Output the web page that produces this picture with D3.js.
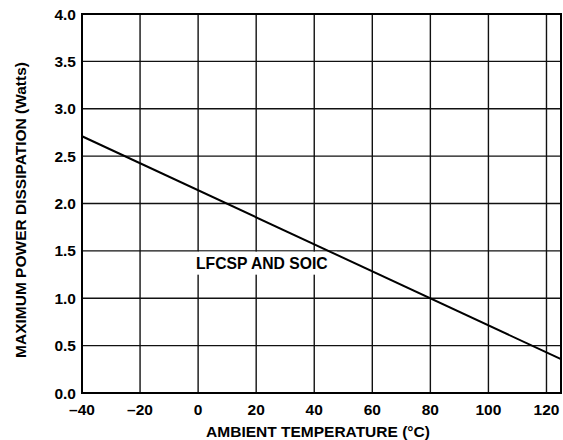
<!DOCTYPE html>
<html><head><meta charset="utf-8">
<script src="https://cdn.jsdelivr.net/npm/d3@7"></script>
<style>body{margin:0;background:#fff}svg{display:block}text{font-family:"Liberation Sans",Arial,sans-serif;font-weight:bold;fill:#000}</style>
</head><body><svg id="c" width="563" height="440"></svg>
<script>
const xTicks = [-40,-20,0,20,40,60,80,100,120];
const yTicks = [0,0.5,1,1.5,2,2.5,3,3.5,4];
const temps = [-40,125];
const power = [2.71,0.357];
const seriesLabel = "LFCSP AND SOIC";
const xTitle = "AMBIENT TEMPERATURE (°C)";
const yTitle = "MAXIMUM POWER DISSIPATION (Watts)";

const svg = d3.select("#c");
const m = {l:82,t:14,r:561,b:393};
const x = d3.scaleLinear().domain([-40,125]).range([m.l,m.r]);
const y = d3.scaleLinear().domain([0,4]).range([m.b,m.t]);

const g = svg.append("g");
g.selectAll("line.vx").data(xTicks).join("line")
  .attr("x1",d=>x(d)).attr("x2",d=>x(d)).attr("y1",m.t).attr("y2",m.b)
  .attr("stroke","#111").attr("stroke-width",1.4);
g.selectAll("line.hy").data(yTicks).join("line")
  .attr("y1",d=>y(d)).attr("y2",d=>y(d)).attr("x1",m.l).attr("x2",m.r)
  .attr("stroke","#111").attr("stroke-width",1.4);

// white box behind label
svg.append("rect").attr("x",197).attr("y",y(1.5)+0.8).attr("width",140).attr("height",23).attr("fill","#fff");

g.append("rect").attr("x",m.l).attr("y",m.t).attr("width",m.r-m.l).attr("height",m.b-m.t)
  .attr("fill","none").attr("stroke","#000").attr("stroke-width",2);

const fmtX = d => d<0 ? "\u2013"+Math.abs(d) : String(d);
svg.selectAll("text.xt").data(xTicks).join("text")
  .attr("x",d=>x(d)).attr("y",415).attr("text-anchor","middle")
  .attr("font-size",15.5).text(fmtX);
svg.selectAll("text.yt").data(yTicks).join("text")
  .attr("x",76).attr("y",d=>y(d)+5.5).attr("text-anchor","end")
  .attr("font-size",15.5).text(d=>d.toFixed(1));

const pts = temps.map((t,i)=>[t,power[i]]);
svg.append("path").attr("d",d3.line().x(d=>x(d[0])).y(d=>y(d[1]))(pts))
  .attr("fill","none").attr("stroke","#000").attr("stroke-width",2);

svg.append("text").attr("x",196).attr("y",269).attr("font-size",15.7).text(seriesLabel);

svg.append("text").attr("x",318).attr("y",437).attr("text-anchor","middle")
  .attr("font-size",15.5).text(xTitle);
svg.append("text").attr("transform",`translate(26,210) rotate(-90)`)
  .attr("text-anchor","middle").attr("font-size",15.5).text(yTitle);
</script></body></html>
